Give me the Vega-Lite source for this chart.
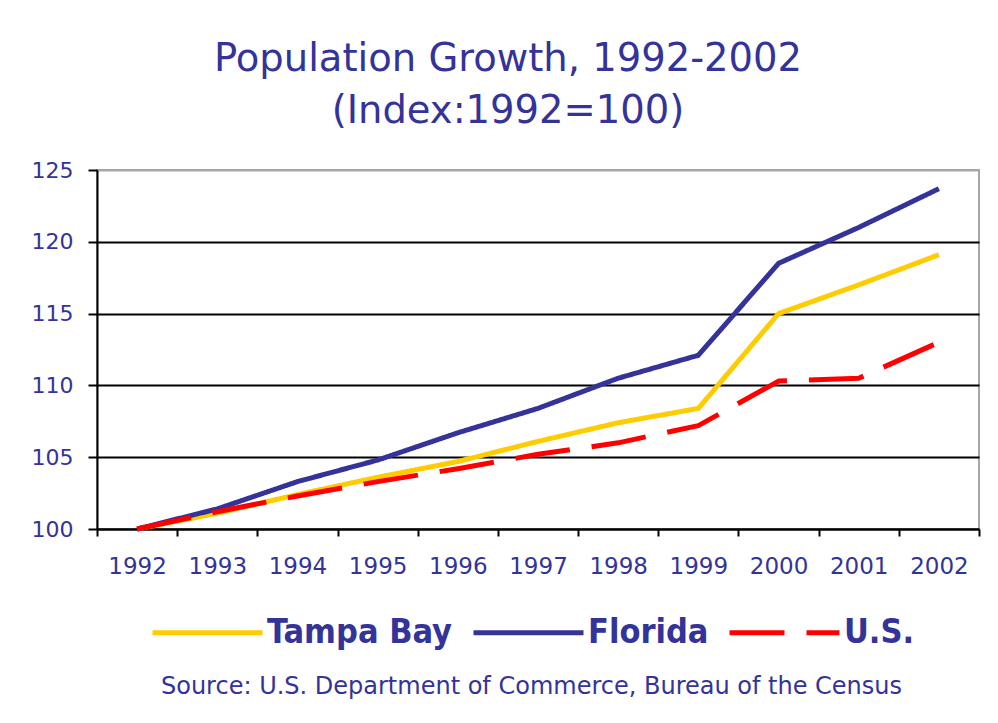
{
  "$schema": "https://vega.github.io/schema/vega-lite/v6.json",
  "autosize": "none",
  "width": 882,
  "height": 359,
  "padding": {"left": 97, "top": 170, "right": 19, "bottom": 194},
  "background": "white",
  "title": {
    "text": ["Population Growth, 1992-2002", "(Index:1992=100)"],
    "font": "DejaVu Sans",
    "fontSize": 38.5,
    "fontWeight": "normal",
    "color": "#333399",
    "lineHeight": 52,
    "anchor": "middle",
    "frame": "group",
    "dx": -30,
    "offset": 28
  },
  "data": {
    "values": [
      {"year": "1992", "series": "Tampa Bay", "index": 100},
      {"year": "1993", "series": "Tampa Bay", "index": 101.1},
      {"year": "1994", "series": "Tampa Bay", "index": 102.4},
      {"year": "1995", "series": "Tampa Bay", "index": 103.6},
      {"year": "1996", "series": "Tampa Bay", "index": 104.7},
      {"year": "1997", "series": "Tampa Bay", "index": 106.1},
      {"year": "1998", "series": "Tampa Bay", "index": 107.4},
      {"year": "1999", "series": "Tampa Bay", "index": 108.4},
      {"year": "2000", "series": "Tampa Bay", "index": 115.0},
      {"year": "2001", "series": "Tampa Bay", "index": 117.0},
      {"year": "2002", "series": "Tampa Bay", "index": 119.1},
      {"year": "1992", "series": "Florida", "index": 100},
      {"year": "1993", "series": "Florida", "index": 101.4},
      {"year": "1994", "series": "Florida", "index": 103.3},
      {"year": "1995", "series": "Florida", "index": 104.8},
      {"year": "1996", "series": "Florida", "index": 106.7},
      {"year": "1997", "series": "Florida", "index": 108.4},
      {"year": "1998", "series": "Florida", "index": 110.5},
      {"year": "1999", "series": "Florida", "index": 112.1},
      {"year": "2000", "series": "Florida", "index": 118.5},
      {"year": "2001", "series": "Florida", "index": 121.0},
      {"year": "2002", "series": "Florida", "index": 123.7},
      {"year": "1992", "series": "U.S.", "index": 100},
      {"year": "1993", "series": "U.S.", "index": 101.2},
      {"year": "1994", "series": "U.S.", "index": 102.3},
      {"year": "1995", "series": "U.S.", "index": 103.3},
      {"year": "1996", "series": "U.S.", "index": 104.2},
      {"year": "1997", "series": "U.S.", "index": 105.2},
      {"year": "1998", "series": "U.S.", "index": 106.0},
      {"year": "1999", "series": "U.S.", "index": 107.2},
      {"year": "2000", "series": "U.S.", "index": 110.3},
      {"year": "2001", "series": "U.S.", "index": 110.5},
      {"year": "2002", "series": "U.S.", "index": 113.0}
    ]
  },
  "mark": {"type": "line", "strokeWidth": 5, "strokeCap": "butt", "strokeJoin": "round"},
  "encoding": {
    "x": {
      "field": "year",
      "type": "ordinal",
      "bandPosition": 0.5,
      "scale": {"type": "band", "paddingInner": 0, "paddingOuter": 0},
      "axis": {
        "title": "Source: U.S. Department of Commerce, Bureau of the Census",
        "titleFont": "DejaVu Sans",
        "titleFontSize": 24,
        "titleFontWeight": "normal",
        "titleColor": "#333399",
        "titleX": 434,
        "titleY": 157,
        "titleAlign": "center",
        "titleBaseline": "middle",
        "titleAnchor": null,
        "labelAngle": 0,
        "labelFont": "DejaVu Sans",
        "labelFontSize": 23,
        "labelColor": "#333399",
        "labelPadding": 19,
        "labelBaseline": "top",
        "tickBand": "extent",
        "tickSize": 7,
        "tickWidth": 2,
        "tickColor": "black",
        "domainColor": "black",
        "domainWidth": 2,
        "grid": false
      }
    },
    "y": {
      "field": "index",
      "type": "quantitative",
      "scale": {"domain": [100, 125], "nice": false, "zero": false},
      "axis": {
        "title": null,
        "values": [100, 105, 110, 115, 120, 125],
        "labelFont": "DejaVu Sans",
        "labelFontSize": 22,
        "labelColor": "#333399",
        "labelPadding": 15,
        "tickSize": 9,
        "tickWidth": 2,
        "tickColor": "black",
        "domainColor": "black",
        "domainWidth": 2,
        "grid": true,
        "gridColor": {"condition": {"test": "datum.value === 125", "value": "#a6a6a6"}, "value": "black"},
        "gridWidth": 2
      }
    },
    "color": {
      "field": "series",
      "type": "nominal",
      "scale": {"domain": ["Tampa Bay", "Florida", "U.S."], "range": ["#FFCC00", "#333399", "#FF0000"]},
      "legend": {
        "title": null,
        "orient": "none",
        "direction": "horizontal",
        "legendX": 53,
        "legendY": 405,
        "symbolType": "stroke",
        "symbolSize": 12100,
        "symbolStrokeWidth": 5,
        "labelFont": "DejaVu Sans Condensed",
        "labelFontSize": 34,
        "labelFontWeight": "bold",
        "labelColor": "#333399",
        "labelOffset": 2,
        "columnPadding": 10,
        "labelLimit": 400
      }
    },
    "strokeDash": {
      "field": "series",
      "type": "nominal",
      "scale": {"domain": ["Tampa Bay", "Florida", "U.S."], "range": [[1, 0], [1, 0], [55, 22]]},
      "legend": {
        "title": null,
        "orient": "none",
        "direction": "horizontal",
        "legendX": 53,
        "legendY": 405,
        "symbolType": "stroke",
        "symbolSize": 12100,
        "symbolStrokeWidth": 5,
        "labelFont": "DejaVu Sans Condensed",
        "labelFontSize": 34,
        "labelFontWeight": "bold",
        "labelColor": "#333399",
        "labelOffset": 2,
        "columnPadding": 10,
        "labelLimit": 400
      }
    }
  },
  "config": {
    "view": {"stroke": "#a6a6a6", "strokeWidth": 2}
  }
}
